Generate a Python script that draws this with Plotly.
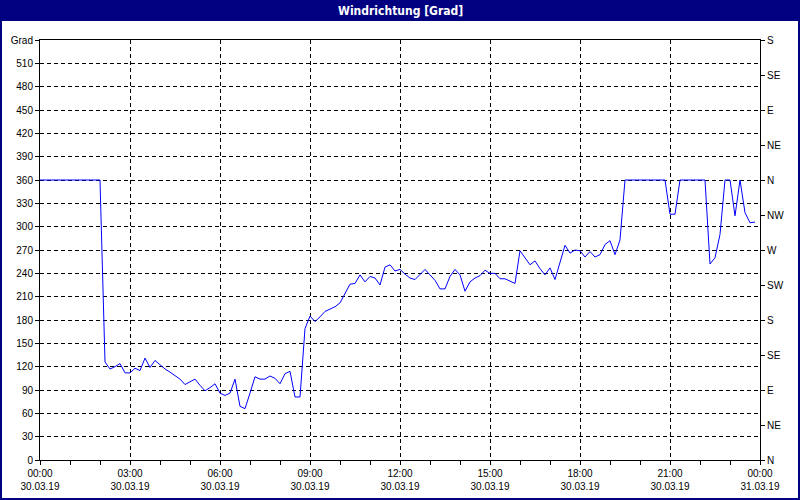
import plotly.graph_objects as go
import pandas as pd

# Wind direction in degrees, 10-minute samples starting 30.03.19 00:00
direction_deg = [
    360, 360, 360, 360, 360, 360, 360, 360, 360, 360, 360, 360, 360,
    126, 117, 120, 124, 112, 112, 118, 115, 131, 119, 128, 122, 117,
    113, 109, 104, 97, 100, 104, 96, 89, 93, 98, 86, 83, 86, 104,
    69, 66, 86, 107, 104, 104, 108, 105, 98, 111, 114, 81, 81,
    169, 185, 178, 184, 191, 194, 197, 202, 214, 226, 227, 238, 229,
    236, 234, 225, 248, 251, 243, 245, 239, 234, 232, 238, 245, 238,
    231, 220, 220, 236, 245, 238, 217, 229, 234, 237, 244, 240, 240,
    233, 233, 230, 227, 269, 260, 251, 256, 246, 238, 247, 232, 253,
    276, 266, 270, 269, 261, 268, 261, 264, 277, 282, 264, 283,
    360, 360, 360, 360, 360, 360, 360, 360, 360,
    316, 316,
    360, 360, 360, 360, 360, 360,
    252, 260, 290, 360, 360, 314, 360, 318, 305, 306,
]
start_time = "2019-03-30 00:00"
sample_freq = "10min"
times = pd.date_range(start_time, periods=len(direction_deg), freq=sample_freq)

# Axis ticks
left_tick_vals = [0, 30, 60, 90, 120, 150, 180, 210, 240, 270, 300, 330,
                  360, 390, 420, 450, 480, 510, 540]
left_tick_text = [str(v) for v in left_tick_vals[:-1]] + ["Grad"]
right_tick_vals = [0, 45, 90, 135, 180, 225, 270, 315, 360, 405, 450, 495, 540]
right_tick_text = ["N", "NE", "E", "SE", "S", "SW", "W", "NW",
                   "N", "NE", "E", "SE", "S"]
x_tick_vals = ["2019-03-30 00:00", "2019-03-30 03:00", "2019-03-30 06:00",
               "2019-03-30 09:00", "2019-03-30 12:00", "2019-03-30 15:00",
               "2019-03-30 18:00", "2019-03-30 21:00", "2019-03-31 00:00"]
x_tick_text = ["00:00<br>30.03.19", "03:00<br>30.03.19", "06:00<br>30.03.19",
               "09:00<br>30.03.19", "12:00<br>30.03.19", "15:00<br>30.03.19",
               "18:00<br>30.03.19", "21:00<br>30.03.19", "00:00<br>31.03.19"]
x_minor_vals = pd.date_range("2019-03-30 00:00", "2019-03-31 00:00", freq="1h")

title_text = "Windrichtung [Grad]"

W, H = 800, 500
ML, MR, MT, MB = 40, 40, 40, 40
PW, PH = W - ML - MR, H - MT - MB


def px(xp):
    return (xp - ML) / PW


def py(yp):
    return (H - MB - yp) / PH


font_main = dict(family="Liberation Sans, Arial, sans-serif", size=10, color="black")

fig = go.Figure()
fig.add_trace(go.Scatter(
    x=times, y=direction_deg, mode="lines",
    line=dict(color="#0000FF", width=1),
    showlegend=False, hoverinfo="x+y",
))
fig.add_trace(go.Scatter(
    x=[times[0]], y=[0], yaxis="y2", mode="markers",
    marker=dict(opacity=0), showlegend=False, hoverinfo="skip",
))

fig.update_layout(
    width=W, height=H,
    margin=dict(l=ML, r=MR, t=MT, b=MB, pad=0, autoexpand=False),
    paper_bgcolor="white", plot_bgcolor="white",
    font=font_main,
    showlegend=False,
    xaxis=dict(
        type="date", automargin=False,
        range=["2019-03-30 00:00", "2019-03-31 00:00"],
        tickmode="array", tickvals=x_tick_vals, ticktext=x_tick_text,
        ticks="outside", ticklen=4, tickcolor="black", tickwidth=1,
        showline=True, linecolor="black", linewidth=1, mirror=True,
        showgrid=True, gridcolor="black", gridwidth=1, griddash="4px,3px",
        zeroline=False,
        minor=dict(tickmode="array", tickvals=list(x_minor_vals),
                   ticks="outside", ticklen=4, tickcolor="black",
                   showgrid=False),
        tickfont=font_main,
    ),
    yaxis=dict(
        range=[0, 540], automargin=False,
        tickmode="array", tickvals=left_tick_vals, ticktext=left_tick_text,
        ticks="outside", ticklen=4, tickcolor="black",
        showline=True, linecolor="black", linewidth=1,
        showgrid=True, gridcolor="black", gridwidth=1, griddash="4px,3px",
        zeroline=False, tickfont=font_main,
    ),
    yaxis2=dict(
        range=[0, 540], overlaying="y", side="right", automargin=False,
        tickmode="array", tickvals=right_tick_vals, ticktext=right_tick_text,
        ticks="outside", ticklen=4, tickcolor="black",
        showline=True, linecolor="black", linewidth=1,
        showgrid=False, zeroline=False, tickfont=font_main,
    ),
    shapes=[
        dict(type="rect", xref="paper", yref="paper",
             x0=px(0), x1=px(W), y0=py(21), y1=py(0),
             fillcolor="#000080", line=dict(width=0), layer="above"),
        dict(type="rect", xref="paper", yref="paper",
             x0=px(1), x1=px(W - 1), y0=py(H - 1), y1=py(1),
             fillcolor="rgba(0,0,0,0)", line=dict(color="#000080", width=2),
             layer="above"),
    ],
    annotations=[
        dict(text="<b>" + title_text + "</b>", xref="paper", yref="paper",
             x=0.5, y=py(10.5), xanchor="center", yanchor="middle",
             showarrow=False,
             font=dict(family="DejaVu Sans Condensed, Liberation Sans Narrow, Arial Narrow, sans-serif",
                       size=12, color="white")),
    ],
)

fig.write_html(
    "out.html",
    config={"displayModeBar": False},
    post_script="document.body.style.margin='0';document.body.style.padding='0';"
                "document.documentElement.style.overflow='hidden';",
)
